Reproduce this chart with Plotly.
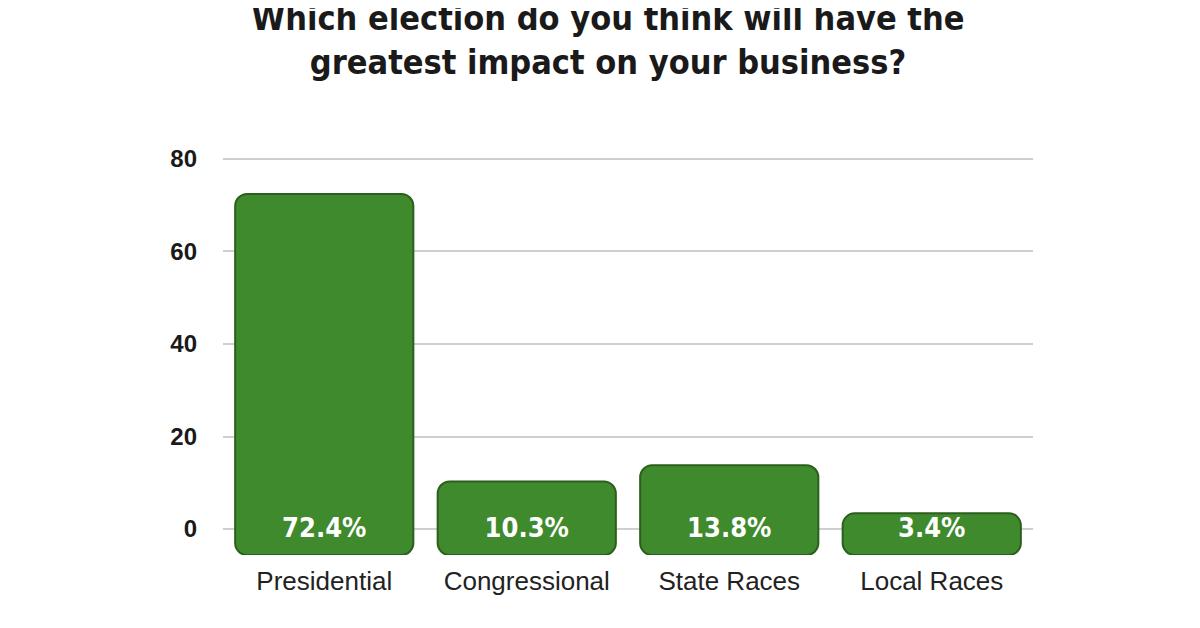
import plotly.graph_objects as go

categories = ["Presidential", "Congressional", "State Races", "Local Races"]
values = [72.4, 10.3, 13.8, 3.4]
labels = ["72.4%", "10.3%", "13.8%", "3.4%"]
tick_vals = [0, 20, 40, 60, 80]

base = -5.6

fig = go.Figure()
fig.add_trace(go.Bar(
    x=categories, y=[v - base for v in values], base=base,
    marker=dict(color="#3f8a2c", line=dict(color="#2b5f1d", width=2), cornerradius=12),
    text=labels, textposition="inside", insidetextanchor="start",
    textfont=dict(family="DejaVu Sans Condensed", size=27, color="white", weight="bold"),
    width=0.88,
))
fig.update_layout(
    width=1200, height=628,
    paper_bgcolor="white", plot_bgcolor="white",
    margin=dict(l=215, r=175, t=142, b=81),
    title=dict(text="Which election do you think will have the<br>greatest impact on your business?",
               x=0.5, xanchor="center", y=0.965, yanchor="top",
               font=dict(family="DejaVu Sans Condensed", size=34, color="#1a1a1a", weight="bold")),
    showlegend=False, bargap=0.1,
)
fig.update_yaxes(range=[base, 81.9], tickvals=tick_vals, showgrid=True, gridcolor="#cfcfcf",
                 gridwidth=1.5, zeroline=False, ticklabelstandoff=25,
                 tickfont=dict(family="Liberation Sans", size=24, color="#1a1a1a", weight="bold"))
fig.update_xaxes(tickfont=dict(family="Liberation Sans", size=26, color="#222"), ticklabelstandoff=8)
fig.write_html("out.html")
